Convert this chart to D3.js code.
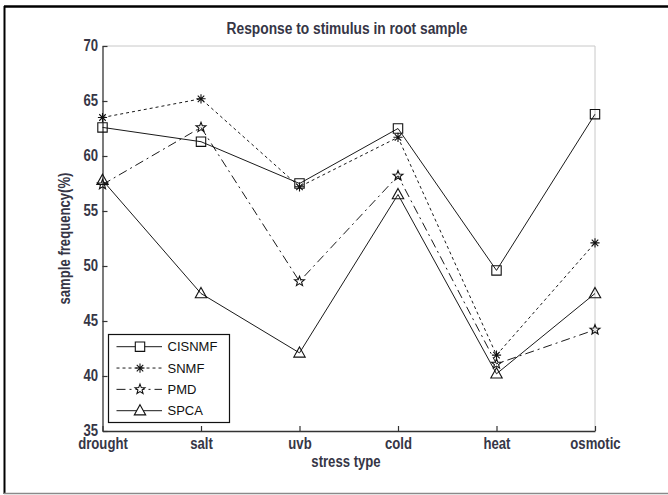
<!DOCTYPE html>
<html>
<head>
<meta charset="utf-8">
<script src="https://cdn.jsdelivr.net/npm/d3@7"></script>
<style>
  body { margin: 0; background: #fff; }
  .lab { font-family: "Liberation Sans", Arial, sans-serif; font-weight: bold; font-size: 16px; fill: #363646; }
  .leg { font-family: "Liberation Sans", Arial, sans-serif; font-size: 13px; fill: #111; }
</style>
</head>
<body>
<svg id="chart" width="668" height="495"></svg>
<script>
// chart values
let stressTypes = ["drought", "salt", "uvb", "cold", "heat", "osmotic"];
let cisnmf = [62.6, 61.3, 57.5, 62.5, 49.6, 63.8];
let snmf   = [63.5, 65.2, 57.2, 61.7, 41.9, 52.1];
let pmd    = [57.4, 62.6, 48.6, 58.2, 41.1, 44.2];
let spca   = [57.8, 47.5, 42.1, 56.5, 40.2, 47.5];
let yTicks = [35, 40, 45, 50, 55, 60, 65, 70];

let series = [
  {name: "CISNMF", values: cisnmf, dash: null,        marker: "square"},
  {name: "SNMF",   values: snmf,   dash: "3,3",       marker: "asterisk"},
  {name: "PMD",    values: pmd,    dash: "9,4,2,4",   marker: "pentagram"},
  {name: "SPCA",   values: spca,   dash: null,        marker: "triangle"}
];

let svg = d3.select("#chart");
let plotL = 102.5, plotR = 595, plotT = 46, plotB = 431;

let x = d3.scalePoint().domain(stressTypes).range([plotL, plotR]);
let y = d3.scaleLinear().domain([35, 70]).range([plotB, plotT]);

// outer frame
svg.append("line").attr("x1", 4).attr("x2", 668).attr("y1", 6.5).attr("y2", 6.5)
   .attr("stroke", "#000").attr("stroke-width", 2.5);
svg.append("line").attr("x1", 4.5).attr("x2", 4.5).attr("y1", 6).attr("y2", 494)
   .attr("stroke", "#000").attr("stroke-width", 2);
svg.append("line").attr("x1", 4).attr("x2", 668).attr("y1", 493.5).attr("y2", 493.5)
   .attr("stroke", "#8a8a8a").attr("stroke-width", 1.5);

// box top/right in light grey
svg.append("path")
   .attr("d", `M${plotL},${plotT}H${plotR}V${plotB}`)
   .attr("fill", "none").attr("stroke", "#c8c8c8").attr("stroke-width", 1);

// axes
let xAxis = d3.axisBottom(x).tickSizeInner(-5).tickSizeOuter(0).tickPadding(9);
let yAxis = d3.axisLeft(y).tickValues(yTicks).tickSizeInner(-5).tickSizeOuter(0).tickPadding(5);

let gx = svg.append("g").attr("transform", `translate(0,${plotB})`).call(xAxis);
let gy = svg.append("g").attr("transform", `translate(${plotL},0)`).call(yAxis);

[gx, gy].forEach(g => {
  g.select(".domain").attr("stroke", "#333").attr("stroke-width", 1.3);
  g.selectAll(".tick line").attr("stroke", "#333").attr("stroke-width", 1.2);
  g.selectAll(".tick text").attr("class", "lab").attr("font-size", null).attr("font-family", null).attr("fill", null);
});
gx.selectAll(".tick text").attr("dy", null).attr("y", 17.5);
gy.selectAll(".tick text").attr("x", -4.5).attr("dy", "0.28em");

// titles
svg.append("text").attr("class", "lab").attr("x", 347).attr("y", 34)
   .attr("text-anchor", "middle").attr("data-squeeze", 0.86)
   .text("Response to stimulus in root sample");
svg.append("text").attr("class", "lab").attr("x", 346).attr("y", 466.5)
   .attr("text-anchor", "middle").text("stress type");
svg.append("text").attr("class", "lab")
   .attr("transform", `translate(70,${(plotT + plotB) / 2}) rotate(-90)`)
   .attr("text-anchor", "middle").text("sample frequency(%)");

// narrow the bold labels, the original uses a condensed face
svg.selectAll("text.lab").each(function() {
  let w = this.getComputedTextLength();
  let k = +(this.getAttribute("data-squeeze") || 0.82);
  d3.select(this).attr("textLength", w * k).attr("lengthAdjust", "spacingAndGlyphs");
});

// marker shapes
function markerPath(kind) {
  if (kind === "square") return "M-4.7,-4.7H4.7V4.7H-4.7Z";
  if (kind === "triangle") return "M0,-6L5.7,4.2L-5.7,4.2Z";
  if (kind === "asterisk") {
    let r = 4.6, p = "";
    [0, 45, 90, 135].forEach(a => {
      let c = Math.cos(a * Math.PI / 180) * r, s = Math.sin(a * Math.PI / 180) * r;
      p += `M${-c},${-s}L${c},${s}`;
    });
    return p;
  }
  if (kind === "pentagram") {
    let pts = [];
    for (let i = 0; i < 10; i++) {
      let rr = i % 2 === 0 ? 5.2 : 2.2;
      let a = -Math.PI / 2 + i * Math.PI / 5;
      pts.push([Math.cos(a) * rr, Math.sin(a) * rr]);
    }
    return "M" + pts.map(p => p.join(",")).join("L") + "Z";
  }
}

let line = d3.line()
             .x((d, i) => x(stressTypes[i]))
             .y(d => y(d));

let lines = svg.selectAll(".series")
               .data(series)
               .enter()
               .append("g")
               .attr("class", "series");

lines.append("path")
     .attr("d", d => line(d.values))
     .attr("fill", "none")
     .attr("stroke", "#1a1a1a")
     .attr("stroke-width", 1)
     .attr("stroke-dasharray", d => d.dash);

lines.each(function(s) {
  d3.select(this).selectAll(".pt")
    .data(s.values)
    .enter()
    .append("path")
    .attr("transform", (d, i) => `translate(${x(stressTypes[i])},${y(d)})`)
    .attr("d", markerPath(s.marker))
    .attr("fill", "none")
    .attr("stroke", "#111")
    .attr("stroke-width", 1.1);
});

// legend
let legend = svg.append("g");
legend.append("rect").attr("x", 108.5).attr("y", 334.5).attr("width", 121).attr("height", 88)
      .attr("fill", "#fff").attr("stroke", "#111").attr("stroke-width", 1.2);

let legY = d3.scalePoint().domain(series.map(d => d.name)).range([346.7, 410.7]);

let item = legend.selectAll(".item")
                 .data(series)
                 .enter()
                 .append("g")
                 .attr("transform", d => `translate(0,${legY(d.name)})`);

item.append("line").attr("x1", 116.5).attr("x2", 162).attr("y1", 0).attr("y2", 0)
    .attr("stroke", "#1a1a1a").attr("stroke-width", 1)
    .attr("stroke-dasharray", d => d.dash);
item.append("path").attr("transform", "translate(140,0)")
    .attr("d", d => markerPath(d.marker))
    .attr("fill", "#fff").attr("stroke", "#111").attr("stroke-width", 1.1);
item.append("text").attr("class", "leg").attr("x", 167.5).attr("y", 0)
    .attr("dy", "0.35em").text(d => d.name);
</script>
</body>
</html>
